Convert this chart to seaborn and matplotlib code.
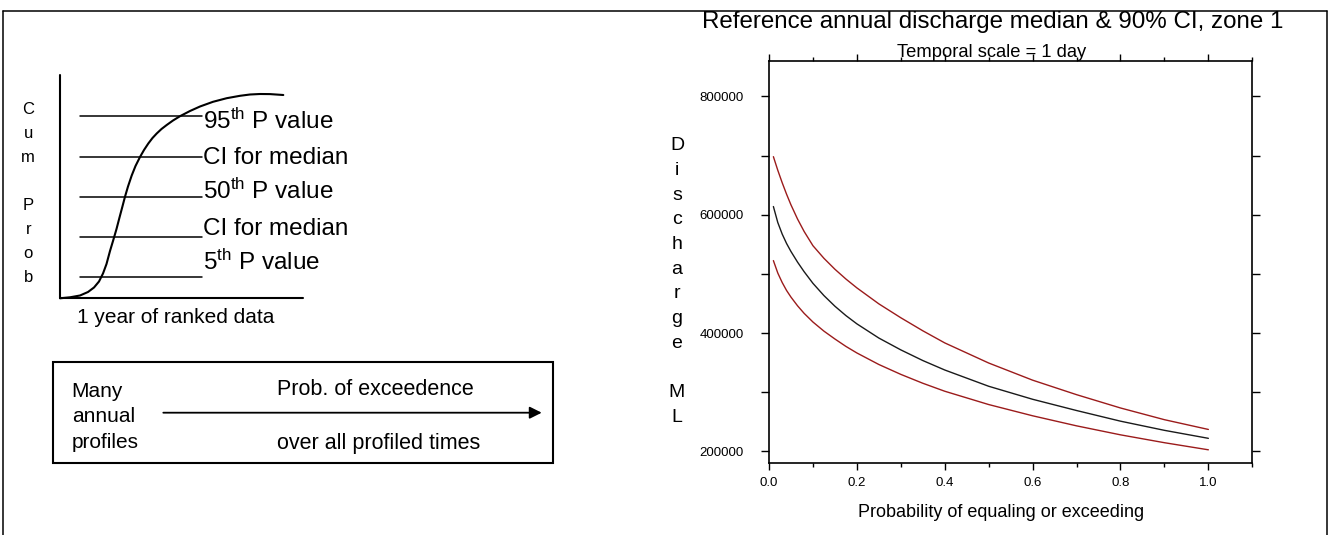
import matplotlib
matplotlib.use("Agg")
import matplotlib.pyplot as plt
from matplotlib.ticker import MultipleLocator
from matplotlib.patches import Rectangle
import seaborn as sns
import pandas as pd

# discharge curves (ML)
prob = [0.01, 0.02, 0.03, 0.04, 0.05, 0.065, 0.08, 0.1, 0.125, 0.15, 0.175, 0.2,
        0.25, 0.3, 0.35, 0.4, 0.5, 0.6, 0.7, 0.8, 0.9, 1.0]
upper = [698300, 675300, 654300, 634800, 616800, 592800, 571800, 547800, 526500, 508000,
         491500, 476500, 449500, 426000, 404000, 383500, 349500, 320500, 296000, 273500,
         253700, 237200]
median = [614000, 587000, 567500, 551500, 538000, 520000, 503800, 484200, 463500, 445500,
          429700, 415700, 391700, 371700, 353700, 337700, 310200, 288200, 269200, 251200,
          235700, 222200]
lower = [522600, 501600, 485600, 472100, 460900, 446200, 433400, 418800, 403400, 390100,
         377600, 366500, 347000, 330300, 315300, 301800, 279300, 260300, 243300, 228100,
         214800, 202800]

# schematic on the left (pixel space of the picture)
level_y = [116, 156.7, 196.7, 236.7, 277.3]
level_labels = ["95$^{\\rm th}$ P value", "CI for median", "50$^{\\rm th}$ P value",
                "CI for median", "5$^{\\rm th}$ P value"]
s_curve_x = [60, 70, 80, 88, 94, 99, 103, 106.5, 110, 113.3, 116.5, 119.5, 122.3, 125,
             128, 131.7, 135.5, 140, 144, 148.3, 152.5, 156.7, 161.5, 166.7, 173, 180,
             190, 200, 213, 226.7, 240, 250, 260, 270, 283.3]
s_curve_y = [298.3, 297.3, 295.5, 292, 287.5, 281.5, 273.5, 264, 251, 240, 229, 217.5,
             207, 196.7, 186.5, 175.5, 166, 157, 150, 143.5, 138, 133.5, 129, 125, 120.5,
             116.2, 111, 106.5, 101.8, 98.2, 95.8, 94.5, 94, 94.1, 95]

RED = "#9b1b1b"
W, H = 1329, 535

sns.set_theme(style="ticks", rc={
    "axes.edgecolor": "black", "text.color": "black", "axes.labelcolor": "black",
    "xtick.color": "black", "ytick.color": "black",
})
plt.rcParams["font.family"] = ["Liberation Sans", "DejaVu Sans"]
plt.rcParams["mathtext.fontset"] = "custom"
plt.rcParams["mathtext.rm"] = "Liberation Sans"
plt.rcParams["mathtext.it"] = "Liberation Sans:italic"
plt.rcParams["mathtext.bf"] = "Liberation Sans:bold"

fig = plt.figure(figsize=(W / 100, H / 100), dpi=100)

# full-figure canvas in pixel coordinates for the schematic and frame
cv = fig.add_axes([0, 0, 1, 1])
cv.set_xlim(0, W)
cv.set_ylim(H, 0)
cv.axis("off")

# outer frame
cv.plot([3.3, 3.3], [10.7, H], color="black", lw=1.1)
cv.plot([1327.3, 1327.3], [10.7, H], color="black", lw=1.1)
cv.plot([3.3, 1327.3], [10.7, 10.7], color="black", lw=1.1)

# cumulative probability sketch
cv.plot([60, 60], [75, 298.3], color="black", lw=1.5)
cv.plot([60, 303.3], [298.3, 298.3], color="black", lw=1.5)
for i, (yy, lab) in enumerate(zip(level_y, level_labels)):
    cv.plot([80, 201.7], [yy, yy], color="black", lw=1.1)
    cv.text(202.7, 128.5 + 35.4 * i, lab, fontsize=17.5, ha="left", va="baseline")
cv.plot(s_curve_x, s_curve_y, color="black", lw=1.5, solid_joinstyle="round")

for i, ch in enumerate("Cum Prob"):
    cv.text(28.3, 114 + 24 * i, ch, fontsize=12, ha="center", va="baseline")
cv.text(76.7, 323, "1 year of ranked data", fontsize=15, ha="left", va="baseline")

# box with arrow
cv.add_patch(Rectangle((52.7, 361.7), 500.6, 101.6, fill=False, ec="black", lw=1.5))
cv.annotate("", xy=(541.7, 412.7), xytext=(163.3, 412.7),
            arrowprops=dict(arrowstyle="-|>", mutation_scale=18, lw=1.3,
                            color="black", shrinkA=0, shrinkB=0))
for i, line in enumerate(["Many", "annual", "profiles"]):
    cv.text(71.7, 396.7 + 25.8 * i, line, fontsize=15, ha="left", va="baseline")
cv.text(276.7, 395, "Prob. of exceedence", fontsize=15.5, ha="left", va="baseline")
cv.text(276.7, 449.3, "over all profiled times", fontsize=15.5, ha="left", va="baseline")

# discharge chart
ax = fig.add_axes([769 / W, (H - 462.7) / H, 483.3 / W, 401.7 / H])
df = pd.concat([
    pd.DataFrame({"prob": prob, "discharge": upper, "series": "upper"}),
    pd.DataFrame({"prob": prob, "discharge": median, "series": "median"}),
    pd.DataFrame({"prob": prob, "discharge": lower, "series": "lower"}),
])
sns.lineplot(data=df, x="prob", y="discharge", hue="series",
             palette={"upper": RED, "median": "#1a1a1a", "lower": RED},
             lw=1.0, legend=False, ax=ax)

ax.set_xlim(0, 1.1)
ax.set_ylim(181000, 860000)
ax.set_xticks([0.0, 0.2, 0.4, 0.6, 0.8, 1.0])
ax.set_xticklabels(["0.0", "0.2", "0.4", "0.6", "0.8", "1.0"])
ax.xaxis.set_minor_locator(MultipleLocator(0.1))
ax.set_yticks([200000, 400000, 600000, 800000])
ax.set_yticklabels(["200000", "400000", "600000", "800000"])
ax.yaxis.set_minor_locator(MultipleLocator(100000))
for side in ["top", "right", "left", "bottom"]:
    ax.spines[side].set_visible(True)
    ax.spines[side].set_linewidth(1.2)
ax.tick_params(axis="x", which="both", top=True, bottom=True, direction="out", width=1.0)
ax.tick_params(axis="x", which="major", length=5, labelsize=9.5, pad=5.4)
ax.tick_params(axis="x", which="minor", length=3)
ax.tick_params(axis="y", which="both", left=True, right=True, direction="out",
               width=1.0, length=5.5)
ax.tick_params(axis="y", which="major", labelsize=9.5, pad=12.7)
ax.set_xlabel("")
ax.set_ylabel("")
ax.set_facecolor("white")

cv.text(1001, 512.7, "Probability of equaling or exceeding", fontsize=13,
        ha="center", va="center")
for i, ch in enumerate("Discharge ML"):
    cv.text(677, 150.3 + 24.7 * i, ch, fontsize=14, ha="center", va="baseline")
cv.text(993, 28.3, "Reference annual discharge median & 90% CI, zone 1", fontsize=17.4,
        ha="center", va="baseline")
cv.text(991.3, 57.3, "Temporal scale = 1 day", fontsize=13.2, ha="center", va="baseline")

fig.savefig("out.png", dpi=100, facecolor="white")
